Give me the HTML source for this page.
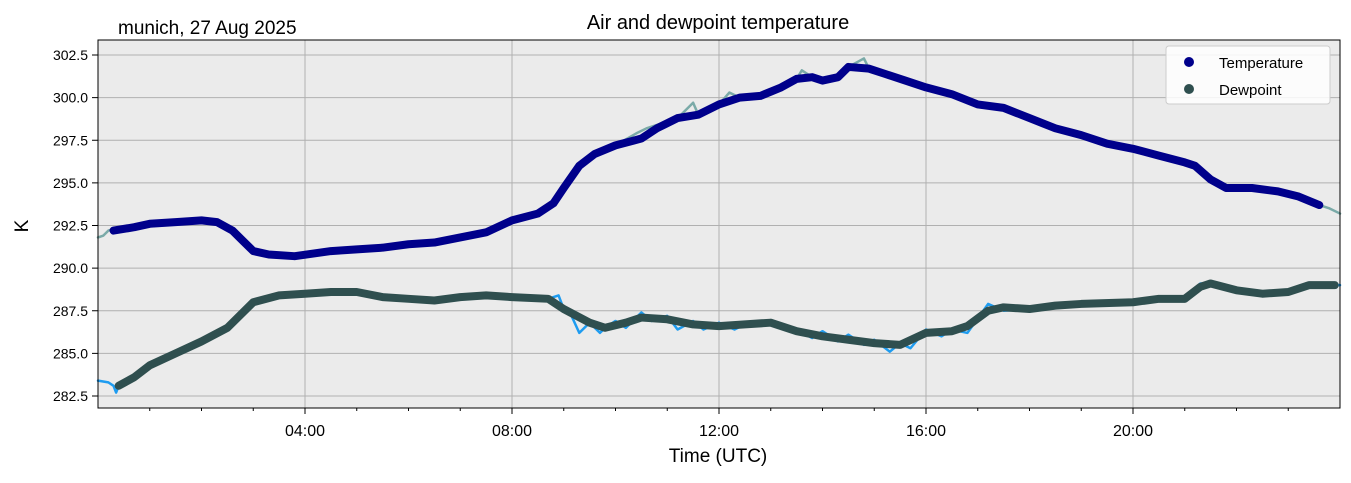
<!DOCTYPE html>
<html><head><meta charset="utf-8"><style>
body{margin:0;background:#fff;width:1351px;height:478px;overflow:hidden}
svg text{font-family:"Liberation Sans","DejaVu Sans",sans-serif}
</style></head><body>
<svg id="chart" width="1351" height="478">
<rect x="98" y="40" width="1242" height="368" fill="#ebebeb"/>
<g id="grid"></g><g id="series"></g><g id="axes"></g>
<rect x="98" y="40" width="1242" height="368" fill="none" stroke="#000" stroke-width="1"/>
<text x="718" y="29" font-size="20" text-anchor="middle">Air and dewpoint temperature</text>
<text x="118" y="34" font-size="19">munich, 27 Aug 2025</text>
<text x="718" y="462" font-size="19" text-anchor="middle">Time (UTC)</text>
<text x="28" y="226" font-size="19" text-anchor="middle" transform="rotate(-90 28 226)">K</text>
<g>
<rect x="1166" y="46" width="164" height="58" fill="#fff" fill-opacity="0.85" stroke="#ccc" rx="3"/>
<g><circle cx="1189" cy="62" r="5" fill="#00008b"/><text x="1219" y="68" font-size="15">Temperature</text></g>
<g><circle cx="1189" cy="89" r="5" fill="#2f4f4f"/><text x="1219" y="95" font-size="15">Dewpoint</text></g>
</g>
</svg>
<script>
const xTicks=[4,8,12,16,20];
const xTickLabels=["04:00","08:00","12:00","16:00","20:00"];
const yTicks=[282.5,285,287.5,290,292.5,295,297.5,300,302.5];
const tempTimes=[0.3,0.7,1.0,1.5,2.0,2.3,2.6,2.8,3.0,3.3,3.8,4.5,5.0,5.5,6.0,6.5,7.0,7.5,8.0,8.5,8.8,9.0,9.3,9.6,10.0,10.5,10.8,11.2,11.6,12.0,12.4,12.8,13.2,13.5,13.8,14.0,14.3,14.5,14.9,15.2,15.6,16.0,16.5,17.0,17.5,18.0,18.5,19.0,19.5,20.0,20.5,21.0,21.2,21.5,21.8,22.3,22.8,23.2,23.6];
const tempValues=[292.2,292.4,292.6,292.7,292.8,292.7,292.2,291.6,291.0,290.8,290.7,291.0,291.1,291.2,291.4,291.5,291.8,292.1,292.8,293.2,293.8,294.7,296.0,296.7,297.2,297.6,298.2,298.8,299.0,299.6,300.0,300.1,300.6,301.1,301.2,301.0,301.2,301.8,301.7,301.4,301.0,300.6,300.2,299.6,299.4,298.8,298.2,297.8,297.3,297.0,296.6,296.2,296.0,295.2,294.7,294.7,294.5,294.2,293.7];
const tempRawTimes=[0,0.1,0.2,0.3,0.5,0.7,1.0,1.5,2.0,2.3,2.6,2.8,3.0,3.3,3.8,4.5,5.0,5.5,6.0,6.5,7.0,7.5,8.0,8.5,8.8,9.0,9.3,9.6,10.0,10.4,10.6,10.8,11.2,11.5,11.6,12.0,12.2,12.4,12.8,13.2,13.5,13.6,13.8,14.0,14.3,14.5,14.8,14.9,15.2,15.6,16.0,16.5,17.0,17.5,18.0,18.5,19.0,19.5,20.0,20.5,21.0,21.2,21.5,21.8,22.3,22.8,23.2,23.6,23.8,24];
const tempRawValues=[291.8,291.9,292.2,292.3,292.4,292.4,292.6,292.7,292.8,292.7,292.2,291.6,291.0,290.8,290.7,291.0,291.1,291.2,291.4,291.5,291.9,292.1,292.8,293.2,293.8,294.7,296.0,296.7,297.2,297.9,298.2,298.4,298.8,299.7,299.0,299.6,300.3,300.0,300.1,300.6,301.1,301.6,301.2,301.0,301.2,301.8,302.3,301.7,301.4,301.0,300.6,300.2,299.6,299.4,298.8,298.2,297.8,297.3,297.0,296.6,296.2,296.0,295.2,294.7,294.7,294.5,294.2,293.7,293.5,293.2];
const dewTimes=[0.4,0.7,1.0,1.5,2.0,2.5,3.0,3.5,4.0,4.5,5.0,5.5,6.0,6.5,7.0,7.5,8.0,8.7,9.0,9.5,9.8,10.2,10.5,11.0,11.5,12.0,12.5,13.0,13.5,14.0,14.5,15.0,15.5,16.0,16.5,16.8,17.2,17.5,18.0,18.5,19.0,20.0,20.5,21.0,21.3,21.5,22.0,22.5,23.0,23.4,23.9];
const dewValues=[283.1,283.6,284.3,285.0,285.7,286.5,288.0,288.4,288.5,288.6,288.6,288.3,288.2,288.1,288.3,288.4,288.3,288.2,287.6,286.8,286.5,286.8,287.1,287.0,286.7,286.6,286.7,286.8,286.3,286.0,285.8,285.6,285.5,286.2,286.3,286.6,287.5,287.7,287.6,287.8,287.9,288.0,288.2,288.2,288.9,289.1,288.7,288.5,288.6,289.0,289.0];
const dewRawTimes=[0,0.2,0.3,0.35,0.4,0.7,1.0,1.5,2.0,2.5,3.0,3.5,4.0,4.5,5.0,5.5,6.0,6.5,7.0,7.5,8.0,8.7,8.9,9.0,9.15,9.3,9.5,9.7,9.8,10.0,10.2,10.5,10.7,11.0,11.2,11.5,11.7,12.0,12.3,12.5,13.0,13.3,13.5,13.8,14.0,14.3,14.5,14.8,15.0,15.3,15.5,15.7,16.0,16.3,16.5,16.8,17.2,17.5,18.0,18.5,19.0,20.0,20.5,21.0,21.3,21.5,22.0,22.5,23.0,23.4,23.9,24];
const dewRawValues=[283.4,283.3,283.1,282.7,283.1,283.6,284.3,285.0,285.7,286.5,288.0,288.4,288.5,288.6,288.6,288.3,288.1,288.1,288.3,288.4,288.3,288.2,288.4,287.6,287.2,286.2,286.8,286.2,286.5,286.9,286.5,287.4,286.9,287.2,286.4,286.9,286.4,286.8,286.4,286.7,286.9,286.6,286.4,285.9,286.3,285.7,286.1,285.5,285.8,285.1,285.6,285.3,286.4,286.0,286.4,286.2,287.9,287.5,287.6,287.8,287.9,288.0,288.3,288.2,289.1,289.1,288.7,288.5,288.6,289.0,289.0,289.0];
const X0=98,X1=1340,YT=302.5,YTP=55,PXK=17.05;
const xs=t=>X0+t*(X1-X0)/24;
const ys=v=>YTP+(YT-v)*PXK;
const NS="http://www.w3.org/2000/svg";
function mk(tag,attrs,parent){const e=document.createElementNS(NS,tag);for(const k in attrs)e.setAttribute(k,attrs[k]);parent.appendChild(e);return e;}
const grid=document.getElementById('grid'),axes=document.getElementById('axes'),ser=document.getElementById('series');
xTicks.forEach((t,i)=>{const x=xs(t);
 const g=mk('line',{x1:x,x2:x,y1:40,y2:408,stroke:'#b0b0b0','stroke-width':1},grid);
 
 
 mk('line',{x1:x,x2:x,y1:408,y2:414,stroke:'#000'},axes);
 const tx=mk('text',{x:x,y:436,'font-size':16,'text-anchor':'middle'},axes);tx.textContent=xTickLabels[i];
 
 
});
for(let h=1;h<24;h++){if(h%4)mk('line',{x1:xs(h),x2:xs(h),y1:408,y2:411,stroke:'#000'},axes);}
yTicks.forEach(v=>{const y=ys(v);
 const g=mk('line',{x1:98,x2:1340,y1:y,y2:y,stroke:'#b0b0b0','stroke-width':1},grid);
 
 
 mk('line',{x1:92,x2:98,y1:y,y2:y,stroke:'#000'},axes);
 const tx=mk('text',{x:88,y:y+5,'font-size':14,'text-anchor':'end'},axes);tx.textContent=v.toFixed(1);
 
 
});
function line(ts,vs,color,w,name){
 const p=mk('polyline',{points:ts.map((t,i)=>xs(t)+','+ys(vs[i])).join(' '),fill:'none',stroke:color,'stroke-width':w,'stroke-linecap':'round','stroke-linejoin':'round'},ser);
 
 
}
line(tempRawTimes,tempRawValues,'#7aaaa8',2.5,'temperature-raw-line');
line(dewRawTimes,dewRawValues,'#1e9cf0',2.5,'dewpoint-raw-line');
line(tempTimes,tempValues,'#00008b',8,'temperature-series');
line(dewTimes,dewValues,'#2f4f4f',8,'dewpoint-series');
</script>
</body></html>
